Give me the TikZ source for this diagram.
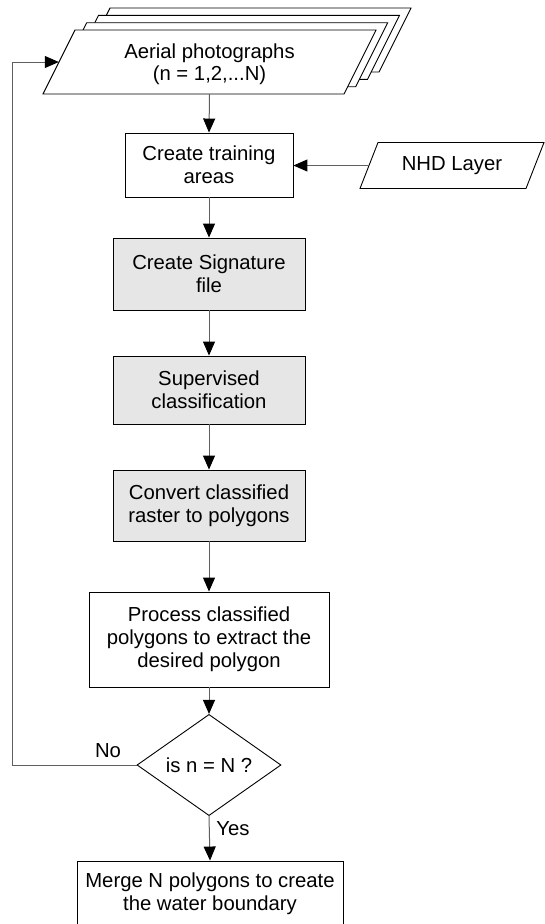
\documentclass[tikz,border=0pt]{standalone}
\usepackage{fontspec}
\setmainfont{Liberation Sans}
\usetikzlibrary{shapes.geometric,arrows.meta}
\definecolor{linegray}{RGB}{95,95,95}
\definecolor{boxgray}{RGB}{230,230,230}
% parallelogram: centre x, centre y, half top width, half height, slant shift
\newcommand\myparal[5]{%
  \filldraw[paraline] (#1-#3+#5,#2-#4) -- (#1+#3+#5,#2-#4) -- (#1+#3-#5,#2+#4)
    -- (#1-#3-#5,#2+#4) -- cycle;}
\begin{document}
\begin{tikzpicture}[x=1pt,y=-1pt,
  font=\fontsize{20.3}{23}\selectfont,
  box/.style={draw=black,line width=0.9pt,fill=white,align=center,inner sep=0pt},
  greybox/.style={box,fill=boxgray},
  paraline/.style={draw=black,line width=0.9pt,fill=white},
  io/.style={align=center,inner sep=0pt},
  decision/.style={draw=black,line width=0.9pt,fill=white,diamond,inner sep=0pt,align=center},
  conn/.style={draw=linegray,line width=1pt,-{Triangle[length=14pt,width=12pt,color=black]}},
  lbl/.style={inner sep=0pt}
]
\useasboundingbox (0,0) rectangle (544,924);

% stacked aerial photographs
\myparal{244.5}{40}{150.5}{32}{16}
\node[io,minimum width=301,minimum height=64] (aerialC) at (244.5,40) {};
\myparal{233}{47.3}{150.5}{32}{16}
\node[io,minimum width=301,minimum height=64] (aerialB) at (233,47.3) {};
\myparal{221.2}{54.7}{150.5}{32}{16}
\node[io,minimum width=301,minimum height=64] (aerialA) at (221.2,54.7) {};
\myparal{209.5}{62}{150.5}{32}{16}
\node[io,minimum width=301,minimum height=64] (aerial) at (209.5,62) {};
\node[io,font=\fontsize{20.3}{22}\selectfont] (aerialtxt) at (209.5,64.5)
  {Aerial photographs\\(n = 1,2,...N)};

\node[box,minimum width=168,minimum height=64] (train) at (209,165) {Create training\\areas};

\myparal{452}{165.5}{83}{23}{9}
\node[io,minimum width=166,minimum height=46] (nhd) at (452,165.5) {NHD Layer};

\node[greybox,minimum width=192,minimum height=72] (sig) at (209,274) {Create Signature\\file};
\node[greybox,minimum width=192,minimum height=68] (sup) at (209,390) {Supervised\\classification};
\node[greybox,minimum width=192,minimum height=71] (conv) at (209,505.5) {Convert classified\\raster to polygons};
\node[box,minimum width=240,minimum height=95] (proc) at (209,639.5)
  {Process classified\\polygons to extract the\\desired polygon};
\node[decision,minimum width=144,minimum height=95.5] (dec) at (209,765) {is n = N ?};
\node[box,minimum width=266,minimum height=66] (merge) at (210,894)
  {Merge N polygons to create\\the water boundary};

\node[lbl] (lno) at (108,751) {No};
\node[lbl] (lyes) at (233,829) {Yes};

\coordinate (loopc) at (12,765);

\draw[conn] (aerial.south) -- (train.north);
\draw[conn] (nhd.west) -- (nhd.west -| train.east);
\draw[conn] (train.south) -- (sig.north);
\draw[conn] (sig.south) -- (sup.north);
\draw[conn] (sup.south) -- (conv.north);
\draw[conn] (conv.south) -- (proc.north);
\draw[conn] (proc.south) -- (dec.north);
\draw[conn] (dec.south) -- (merge.north);
\draw[conn] (dec.west) -- (loopc) |- (aerial.west);
\end{tikzpicture}
\end{document}
